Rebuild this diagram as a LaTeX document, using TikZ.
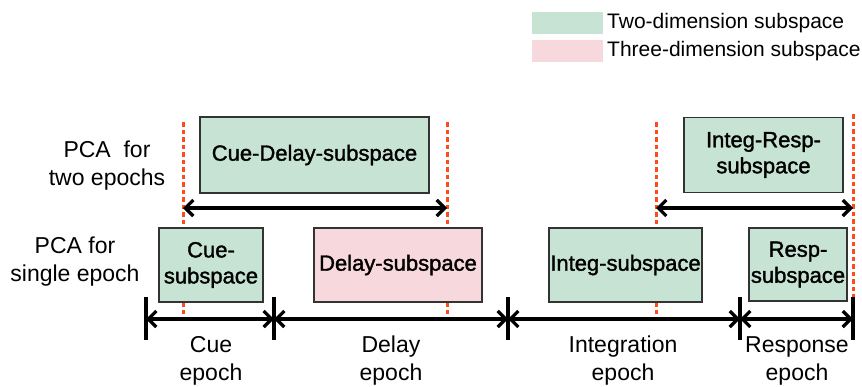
\documentclass[tikz,border=0pt]{standalone}
\usepackage{fontspec}
\setmainfont{Liberation Sans}
\newfontfamily\boxfont[FakeBold=1.5]{Liberation Sans}
\usetikzlibrary{arrows.meta}
\definecolor{subtwo}{HTML}{C6E3D3}
\definecolor{subthree}{HTML}{F7D8DD}
\definecolor{epochred}{HTML}{FF4A1E}
\definecolor{boxedge}{HTML}{333333}
\tikzset{
  sub/.style={draw=boxedge, line width=1.4pt, fill=subtwo, align=center,
    inner sep=0pt, font=\boxfont\fontsize{22}{26}\selectfont},
  subpink/.style={sub, fill=subthree},
  lab/.style={align=center, inner sep=0pt, font=\fontsize{23}{28}\selectfont},
  legendtext/.style={anchor=west, inner sep=0pt, font=\fontsize{21}{26}\selectfont},
  sep/.style={epochred, line width=3pt, dash pattern=on 4.5pt off 3pt},
  span/.style={line width=3.2pt, {Straight Barb[length=8pt,width=16pt]}-{Straight Barb[length=8pt,width=16pt]}},
  tick/.style={line width=3.2pt},
  legendbox/.style={fill=#1, minimum width=71pt, minimum height=22pt, inner sep=0pt}
}
\begin{document}
\begin{tikzpicture}[x=1pt,y=-1pt]
\useasboundingbox (0,0) rectangle (862,386);

% legend
\node[legendbox=subtwo] (lg2) at (567.5,23) {};
\node[legendbox=subthree] (lg3) at (567.5,51) {};
\node[legendtext] (lt2) at (607,23) {Two-dimension subspace};
\node[legendtext] (lt3) at (607,51) {Three-dimension subspace};

% epoch boundaries (dashed guides)
\coordinate (g1t) at (183,122); \coordinate (g1b) at (183,318);
\coordinate (g2t) at (447,122); \coordinate (g2b) at (447,318);
\coordinate (g3t) at (656,122); \coordinate (g3b) at (656,318);
\coordinate (g4t) at (853,114); \coordinate (g4b) at (853,318);
\draw[sep] (g1t) -- (g1b);
\draw[sep] (g2t) -- (g2b);
\draw[sep] (g3t) -- (g3b);
\draw[sep] (g4t) -- (g4b);

% row labels
\node[lab] (rowtwo) at (107,166) {PCA\ \ for\\two epochs};
\node[lab] (rowone) at (75,262) {PCA for\\single epoch};

% subspaces spanning two epochs
\node[sub, minimum width=229pt, minimum height=76pt] (cd) at (314.5,155) {Cue-Delay-subspace};
\node[sub, minimum width=159pt, minimum height=75pt] (ir) at (763.5,155) {Integ-Resp-\\subspace};
\coordinate (a1) at (183,208); \coordinate (a2) at (447,208);
\coordinate (a3) at (656,208); \coordinate (a4) at (853,208);
\draw[span] (a1) -- (a2);
\draw[span] (a3) -- (a4);

% subspaces of single epochs
\node[sub, minimum width=104pt, minimum height=74pt] (cs) at (211,265) {Cue-\\subspace};
\node[subpink, minimum width=168pt, minimum height=74pt] (ds) at (398,265) {Delay-subspace};
\node[sub, minimum width=153pt, minimum height=74pt] (is) at (625.5,265) {Integ-subspace};
\node[sub, minimum width=98pt, minimum height=73pt] (rs) at (798,264.5) {Resp-\\subspace};

% timeline
\foreach \i/\x in {0/146,1/274,2/508,3/740,4/853}{
  \coordinate (t\i) at (\x,319);
  \coordinate (t\i u) at (\x,297);
  \coordinate (t\i d) at (\x,340);
  \draw[tick] (t\i u) -- (t\i d);
}
\draw[span] (t0) -- (t1);
\draw[span] (t1) -- (t2);
\draw[span] (t2) -- (t3);
\draw[span] (t3) -- (t4);

% epoch names
\node[lab] (ec) at (211,361) {Cue\\epoch};
\node[lab] (ed) at (391,361) {Delay\\epoch};
\node[lab] (ei) at (623,361) {Integration\\epoch};
\node[lab] (er) at (797,361) {Response\\epoch};
\end{tikzpicture}
\end{document}
